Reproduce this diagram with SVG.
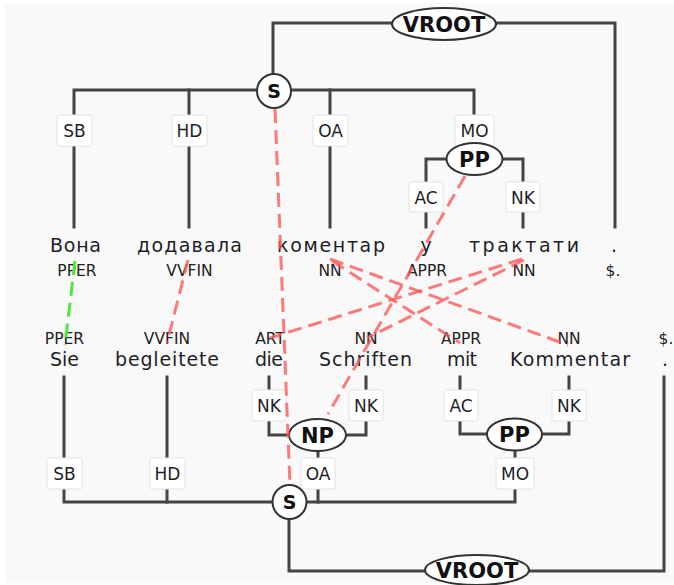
<svg xmlns="http://www.w3.org/2000/svg" width="674" height="585" viewBox="0 0 674 585">
<defs>
<style>
.bg{fill:#f9f9f9}
.edge{stroke:#444;stroke-width:3;fill:none;stroke-linecap:square}
.lbl rect{fill:#fff;stroke:#e2e2e2;stroke-width:1}
text{font-family:"DejaVu Sans","Liberation Sans",sans-serif;fill:#1e1e28;text-anchor:middle}
.lbl text{font-size:17px}
.w{font-size:19px}
.p{font-size:15.5px;fill:#222}
.nt ellipse,.nt circle{fill:#fff;stroke:#333;stroke-width:2}
.nt text{font-weight:bold;font-size:21px;fill:#111}
.al{stroke:#ff5a5a;stroke-opacity:.8;stroke-width:3;stroke-dasharray:14 7;fill:none}
.gr{stroke:#4de83c;stroke-width:3;stroke-dasharray:14 7;fill:none}
</style>
</defs>
<rect class="bg" x="5" y="3" width="669" height="580"/>
<g id="connectors">
<path class="edge" d="M273,74 V23 H615 V227"/>
<path class="edge" d="M74,227 V90 H474 V143"/>
<path class="edge" d="M189,90 V227"/>
<path class="edge" d="M330,90 V227"/>
<path class="edge" d="M426,227 V159 H523 V227"/>
<path class="edge" d="M64,377 V502 H515 V450"/>
<path class="edge" d="M167,377 V502"/>
<path class="edge" d="M269,377 V435 H290"/>
<path class="edge" d="M366,377 V435 H346"/>
<path class="edge" d="M318,451 V502"/>
<path class="edge" d="M460,377 V434 H488"/>
<path class="edge" d="M569,377 V434 H541"/>
<path class="edge" d="M289,519 V571 H664 V377"/>
</g>
<g id="edge-labels">
<g class="lbl" id="l-sb1"><rect x="57" y="115" width="35" height="31" rx="2"/><text x="74.5" y="137">SB</text></g>
<g class="lbl" id="l-hd1"><rect x="172" y="115" width="35" height="31" rx="2"/><text x="189.5" y="137">HD</text></g>
<g class="lbl" id="l-oa1"><rect x="313" y="115" width="35" height="31" rx="2"/><text x="330.5" y="137">OA</text></g>
<g class="lbl" id="l-mo1"><rect x="455" y="115" width="39" height="31" rx="2"/><text x="474.5" y="137">MO</text></g>
<g class="lbl" id="l-ac1"><rect x="409" y="182" width="34" height="30" rx="2"/><text x="426" y="204">AC</text></g>
<g class="lbl" id="l-nk1"><rect x="506" y="182" width="34" height="30" rx="2"/><text x="523" y="204">NK</text></g>
<g class="lbl" id="l-nk2"><rect x="252" y="390" width="34" height="31" rx="2"/><text x="269" y="412">NK</text></g>
<g class="lbl" id="l-nk3"><rect x="349" y="390" width="34" height="31" rx="2"/><text x="366" y="412">NK</text></g>
<g class="lbl" id="l-ac2"><rect x="444" y="390" width="34" height="31" rx="2"/><text x="461" y="412">AC</text></g>
<g class="lbl" id="l-nk4"><rect x="552" y="390" width="34" height="31" rx="2"/><text x="569" y="412">NK</text></g>
<g class="lbl" id="l-sb2"><rect x="47" y="458" width="35" height="31" rx="2"/><text x="64.5" y="480">SB</text></g>
<g class="lbl" id="l-hd2"><rect x="150" y="458" width="35" height="31" rx="2"/><text x="167.5" y="480">HD</text></g>
<g class="lbl" id="l-oa2"><rect x="301" y="458" width="34" height="31" rx="2"/><text x="318" y="480">OA</text></g>
<g class="lbl" id="l-mo2"><rect x="496" y="458" width="38" height="31" rx="2"/><text x="515" y="480">MO</text></g>
</g>
<g class="nt" id="vroot-top"><ellipse cx="444" cy="24" rx="52" ry="16"/><text x="444" y="32">VROOT</text></g>
<g class="nt" id="s-top"><circle cx="274" cy="91" r="17"/><text x="274" y="98" style="font-size:19px">S</text></g>
<g class="nt" id="pp-top"><ellipse cx="474.5" cy="159" rx="28" ry="16"/><text x="474.5" y="167">PP</text></g>
<g class="nt" id="np-bot"><ellipse cx="317.5" cy="435" rx="28.5" ry="16"/><text x="317.5" y="443">NP</text></g>
<g class="nt" id="pp-bot"><ellipse cx="514.5" cy="434.5" rx="27.5" ry="16"/><text x="514.5" y="442">PP</text></g>
<g class="nt" id="s-bot"><circle cx="289.5" cy="502" r="17"/><text x="289.5" y="509" style="font-size:19px">S</text></g>
<g class="nt" id="vroot-bot"><ellipse cx="477" cy="570" rx="52" ry="15"/><text x="477" y="578">VROOT</text></g>
<g id="t1-0"><text class="w" x="75.5" y="252" textLength="51" lengthAdjust="spacing">Вона</text><text class="p" x="77" y="276">PPER</text></g>
<g id="t1-1"><text class="w" x="189.5" y="252" textLength="105" lengthAdjust="spacing">додавала</text><text class="p" x="189.5" y="276">VVFIN</text></g>
<g id="t1-2"><text class="w" x="331" y="252" textLength="108" lengthAdjust="spacing">коментар</text><text class="p" x="330" y="276">NN</text></g>
<g id="t1-3"><text class="w" x="426" y="252">у</text><text class="p" x="427" y="276">APPR</text></g>
<g id="t1-4"><text class="w" x="524" y="252" textLength="110" lengthAdjust="spacing">трактати</text><text class="p" x="524" y="276">NN</text></g>
<g id="t1-5"><text class="w" x="614" y="252">.</text><text class="p" x="613" y="276">$.</text></g>
<g id="t2-0"><text class="p" x="64.5" y="344">PPER</text><text class="w" x="64.5" y="366" textLength="29" lengthAdjust="spacing">Sie</text></g>
<g id="t2-1"><text class="p" x="167" y="344">VVFIN</text><text class="w" x="167" y="366" textLength="104" lengthAdjust="spacing">begleitete</text></g>
<g id="t2-2"><text class="p" x="270" y="344">ART</text><text class="w" x="269" y="366" textLength="28" lengthAdjust="spacing">die</text></g>
<g id="t2-3"><text class="p" x="366" y="344">NN</text><text class="w" x="365.5" y="366" textLength="93" lengthAdjust="spacing">Schriften</text></g>
<g id="t2-4"><text class="p" x="461" y="344">APPR</text><text class="w" x="462" y="366" textLength="30" lengthAdjust="spacing">mit</text></g>
<g id="t2-5"><text class="p" x="569" y="344">NN</text><text class="w" x="570" y="366" textLength="120" lengthAdjust="spacing">Kommentar</text></g>
<g id="t2-6"><text class="p" x="666" y="344">$.</text><text class="w" x="665" y="366">.</text></g>
<g id="alignments">
<path class="gr" d="M75,261 L65,345"/>
<path class="al" d="M275,109 L290,485"/>
<path class="al" d="M188,260 L167,343"/>
<path class="al" d="M465,176 L328,414"/>
<path class="al" d="M330,259 L568,345"/>
<path class="al" d="M332,261 L460,343"/>
<path class="al" d="M522,259 L270,338"/>
<path class="al" d="M524,260 L367,338"/>
</g>
</svg>
